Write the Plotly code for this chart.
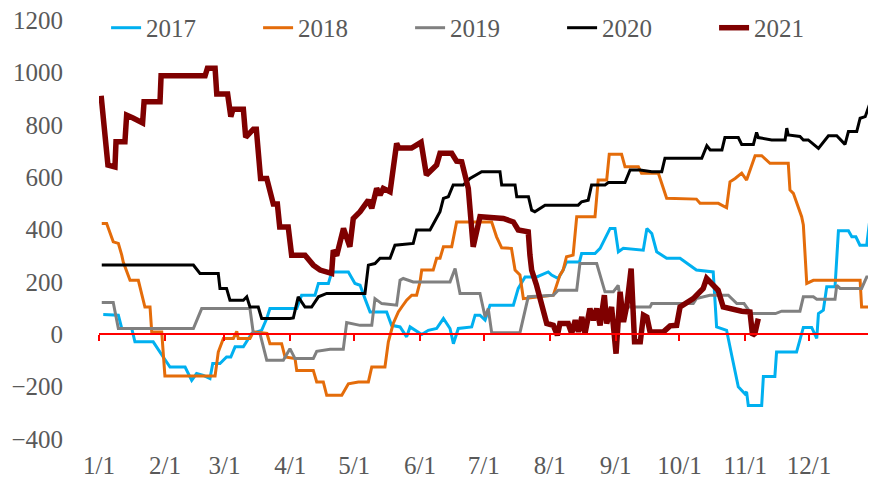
import plotly.graph_objects as go

# month-start day offsets and labels
tick_days = [0, 31, 59, 90, 120, 151, 181, 212, 243, 273, 304, 334]
tick_labels = ["1/1", "2/1", "3/1", "4/1", "5/1", "6/1", "7/1", "8/1", "9/1", "10/1", "11/1", "12/1"]
axis_ticks = tick_days + [365]

d2017 = [2, 9.1, 10.7, 15.4, 16.9, 25.5, 30.2, 33.4, 40.5, 43.6, 45.9, 49.1, 52.2, 53.5, 56.9, 60, 62, 64, 67.9, 70.2, 71.8, 76.5, 78.9, 80.4, 93, 95.3, 101.6, 103.2, 107.9, 109.5, 117.3, 120.4, 122.8, 125.1, 127.5, 135.3, 137.6, 141.6, 144.7, 146.3, 149.4, 151.8, 154.9, 158.8, 162, 165.1, 166.7, 169, 175.3, 176.9, 179.2, 181.6, 183.9, 194.9, 197.2, 200.4, 205.9, 211.3, 212.9, 216, 218.3, 219.9, 226, 227, 233.3, 235.7, 240.4, 242.7, 244.3, 246.6, 256, 257.7, 260, 262.3, 267, 273.3, 281, 288.9, 290.5, 295.2, 297.6, 300.7, 303.8, 304.6, 305.4, 311.7, 312.5, 317.9, 318.7, 328.1, 331.3, 335.2, 337.6, 338.4, 340.7, 342.3, 346.2, 347.8, 352.5, 354.1, 356, 357.9, 361.1, 362.7]
v2017 = [75, 73, 22, 22, -29, -29, -87, -125, -125, -176, -150, -157, -169, -112, -112, -87, -87, -48, -48, -16, 3, 15, 60, 98, 98, 149, 149, 194, 194, 238, 238, 194, 187, 136, 85, 85, 34, 28, -10, 28, 11, -1, 15, 22, 60, 22, -36, 22, 28, 73, 73, 54, 111, 111, 175, 219, 219, 238, 226, 213, 245, 276, 276, 308, 308, 328, 404, 404, 315, 328, 321, 404, 385, 315, 290, 290, 245, 238, 28, 15, -80, -201, -227, -220, -272, -272, -161, -161, -68, -68, 26, 26, -16, 79, 92, 181, 181, 395, 395, 372, 372, 340, 340, 446]

d2018 = [1.3, 3.6, 6.7, 9.1, 10.7, 11.4, 14.6, 18.5, 21.6, 24, 24.8, 29.5, 31, 54.6, 56.1, 58.5, 63.2, 64.8, 65.5, 71, 72.6, 77.3, 79, 80.4, 85.9, 87.5, 92.2, 93, 100.8, 102.4, 105.5, 107.1, 114.2, 117.3, 122, 126.7, 128.3, 134.5, 136.1, 138.4, 140.8, 142.4, 144.7, 147.1, 149.4, 151, 151.8, 157.2, 158.8, 160.4, 162, 165.9, 168.2, 184.7, 187, 189.4, 193.3, 194, 195.7, 198, 199.6, 213.7, 216.8, 218.3, 219.9, 223, 224.7, 233.3, 234.8, 238.8, 240, 245.8, 247.4, 253.7, 255.2, 263.1, 267, 281, 282.7, 291.3, 295.2, 296.8, 299.2, 302.3, 304.6, 308.6, 311.7, 315.6, 324.2, 325, 326.6, 330.5, 331.3, 332.1, 332.9, 336, 358, 358.7, 363.4]
v2018 = [423, 423, 353, 347, 302, 276, 206, 206, 104, 104, 9, 9, -159, -159, -68, -16, -16, 11, -16, -16, 9, 3, 3, -36, -36, -87, -93, -138, -138, -182, -182, -233, -233, -189, -182, -182, -125, -125, -29, 41, 85, 104, 130, 149, 149, 200, 245, 245, 290, 290, 334, 334, 429, 429, 372, 330, 330, 328, 245, 226, 136, 149, 226, 245, 296, 302, 449, 449, 589, 589, 687, 687, 640, 640, 615, 615, 519, 516, 500, 500, 483, 582, 595, 615, 589, 682, 682, 653, 653, 551, 538, 449, 417, 302, 194, 206, 206, 104, 104]

d2019 = [1.3, 6.7, 9.1, 44.4, 48.3, 71, 72.6, 75.7, 78.9, 86.7, 89.8, 92.2, 100.8, 102.4, 108.7, 114.9, 116.5, 122.8, 128.3, 129.8, 133, 140, 141.6, 143.1, 147.8, 165.1, 167.5, 169.8, 179.2, 181.6, 183.1, 184.7, 198, 201.9, 213.7, 216, 224.7, 226.2, 234.1, 238, 241.9, 244.2, 245.8, 259.2, 260, 279.5, 281, 287.3, 296, 300, 303.4, 305.6, 307.2, 318.2, 321.1, 329.7, 331.3, 336, 337.6, 346.2, 347, 348.6, 358.7, 361.1, 365]
v2019 = [121, 121, 22, 22, 98, 98, 3, 3, -99, -99, -55, -93, -93, -65, -57, -57, 45, 34, 34, 136, 117, 111, 206, 213, 200, 200, 251, 156, 156, 66, 98, 6, 6, 143, 149, 168, 168, 270, 270, 162, 162, 187, 104, 104, 117, 117, 136, 149, 149, 117, 117, 92, 79, 79, 88, 88, 143, 143, 134, 134, 187, 175, 175, 219, 219]

d2020 = [1.3, 44.4, 47.5, 56.1, 56.9, 60, 61.6, 67.9, 69.5, 71, 74.9, 76.5, 89.8, 91.4, 93.7, 96.9, 100, 103.2, 107.1, 125.1, 126.7, 129.8, 132.2, 136.9, 139.2, 147.8, 149.4, 155.7, 160.4, 162, 164.3, 166.6, 171.3, 174.5, 180, 188.6, 189.4, 195.7, 196.5, 202, 203.5, 205, 209.8, 225.4, 227, 230.1, 231.7, 238, 239.6, 247.4, 249.8, 254.5, 260, 264.7, 266.2, 283.5, 285.9, 287.5, 293, 294.4, 300.7, 302.3, 307.8, 309.3, 310.1, 316.4, 322.7, 323.5, 324.2, 329.7, 331.3, 333.6, 338.4, 343.1, 347, 350.9, 352.5, 356.4, 358, 360.4, 364.3, 365]
v2020 = [264, 264, 232, 232, 175, 175, 130, 130, 143, 104, 104, 60, 60, 62, 143, 104, 104, 143, 156, 156, 264, 270, 290, 290, 340, 347, 398, 398, 468, 519, 525, 570, 570, 595, 621, 621, 570, 570, 525, 525, 474, 468, 493, 493, 506, 512, 570, 570, 579, 579, 627, 627, 621, 621, 672, 672, 720, 704, 704, 751, 751, 725, 725, 771, 751, 742, 742, 787, 761, 755, 742, 742, 710, 758, 758, 725, 774, 774, 825, 831, 920, 914]

d2021 = [1, 4.2, 7.5, 8, 12.2, 13, 16, 20.5, 21.2, 28.7, 29.2, 49.9, 51, 54.6, 55.4, 60.5, 62, 63, 67.9, 69, 72.6, 74, 76, 78.9, 82, 83.9, 85, 89, 90.6, 96.9, 100.8, 104, 109.4, 110.2, 111.8, 115, 118, 119.6, 122.8, 126.7, 128.3, 130.6, 132.2, 133.7, 136.9, 140, 141, 147, 151.5, 154, 158.8, 160.4, 165.9, 168.2, 170.6, 173.7, 176, 179.2, 190.2, 194.9, 197.2, 201.9, 202.7, 203.5, 205.8, 208.2, 210.6, 213.7, 215.6, 216.8, 220.7, 222.3, 224, 225.5, 227.1, 228.6, 230.9, 232.5, 234.1, 235.7, 237.7, 238.8, 241.1, 243.2, 245.1, 246.7, 248.3, 250.3, 251.9, 254.6, 256.1, 257.7, 259.2, 265.5, 268.6, 271.7, 273.3, 279.5, 281.8, 284.2, 285.8, 288.9, 291.2, 293.6, 296.7, 299.1, 302.3, 306.2, 307.4, 308.5, 310.1]
v2021 = [911, 646, 639, 735, 735, 837, 826, 807, 888, 888, 987, 987, 1016, 1016, 917, 917, 831, 859, 859, 752, 783, 783, 595, 595, 497, 497, 410, 410, 302, 302, 264, 245, 232, 321, 300, 404, 334, 442, 468, 512, 481, 557, 532, 557, 544, 729, 711, 711, 733, 608, 646, 691, 691, 661, 659, 557, 334, 449, 442, 429, 398, 391, 302, 245, 187, 117, 41, 34, -4, 41, 41, 3, 54, 9, 66, 3, 98, 54, 98, 34, 149, 41, 104, -74, 162, 47, 111, 251, -29, -29, 73, 66, 9, 9, 32, 34, 104, 136, 156, 175, 213, 187, 168, 104, 98, 92, 88, 85, -4, 3, 60]

series = [
    ("2017", d2017, v2017, "#00B0F0", 3),
    ("2018", d2018, v2018, "#E46C0A", 3),
    ("2019", d2019, v2019, "#808080", 3),
    ("2020", d2020, v2020, "#000000", 3),
    ("2021", d2021, v2021, "#7F0000", 5.5),
]

FONT = "Liberation Serif"
TXT = "#595959"

fig = go.Figure()
for name, xs, ys, col, w in series:
    fig.add_trace(go.Scatter(
        x=xs, y=ys, name=name, mode="lines",
        line=dict(color=col, width=w),
        xaxis="x2" if name == "2021" else "x",
    ))

# page body has an 8px margin, so the figure is sized/offset to compensate
fig.update_layout(
    width=868, height=473,
    margin=dict(l=91, r=1, t=12, b=42, autoexpand=False),
    paper_bgcolor="white", plot_bgcolor="white",
    font=dict(family=FONT, size=25, color=TXT),
    showlegend=True,
    legend=dict(
        orientation="h", xref="container", yref="paper",
        x=0.113, y=0.981, xanchor="left", yanchor="middle",
        font=dict(family=FONT, size=25, color=TXT),
        entrywidth=107, entrywidthmode="pixels",
        bgcolor="rgba(0,0,0,0)", tracegroupgap=0,
    ),
    xaxis=dict(
        range=[0, 365], tickvals=tick_days, ticktext=tick_labels,
        showgrid=False, zeroline=False, showline=False, ticks="",
        tickfont=dict(family=FONT, size=25, color=TXT), automargin=False,
        ticklabelstandoff=9, ticklabeloverflow="allow",
    ),
    xaxis2=dict(
        range=[0, 365], overlaying="x", anchor="free", position=0.25,
        tickvals=axis_ticks, showticklabels=False,
        showgrid=False, zeroline=False, showline=True, linecolor="#FF0000", linewidth=1.5,
        ticks="outside", ticklen=6, tickcolor="#FF0000", tickwidth=1.5, automargin=False,
    ),
    yaxis=dict(
        range=[-400, 1200], dtick=200, showgrid=False, zeroline=False, showline=False,
        tickfont=dict(family=FONT, size=25, color=TXT), ticklabelstandoff=35,
        automargin=False, ticklabeloverflow="allow",
    ),
)

fig.write_html("out.html")
